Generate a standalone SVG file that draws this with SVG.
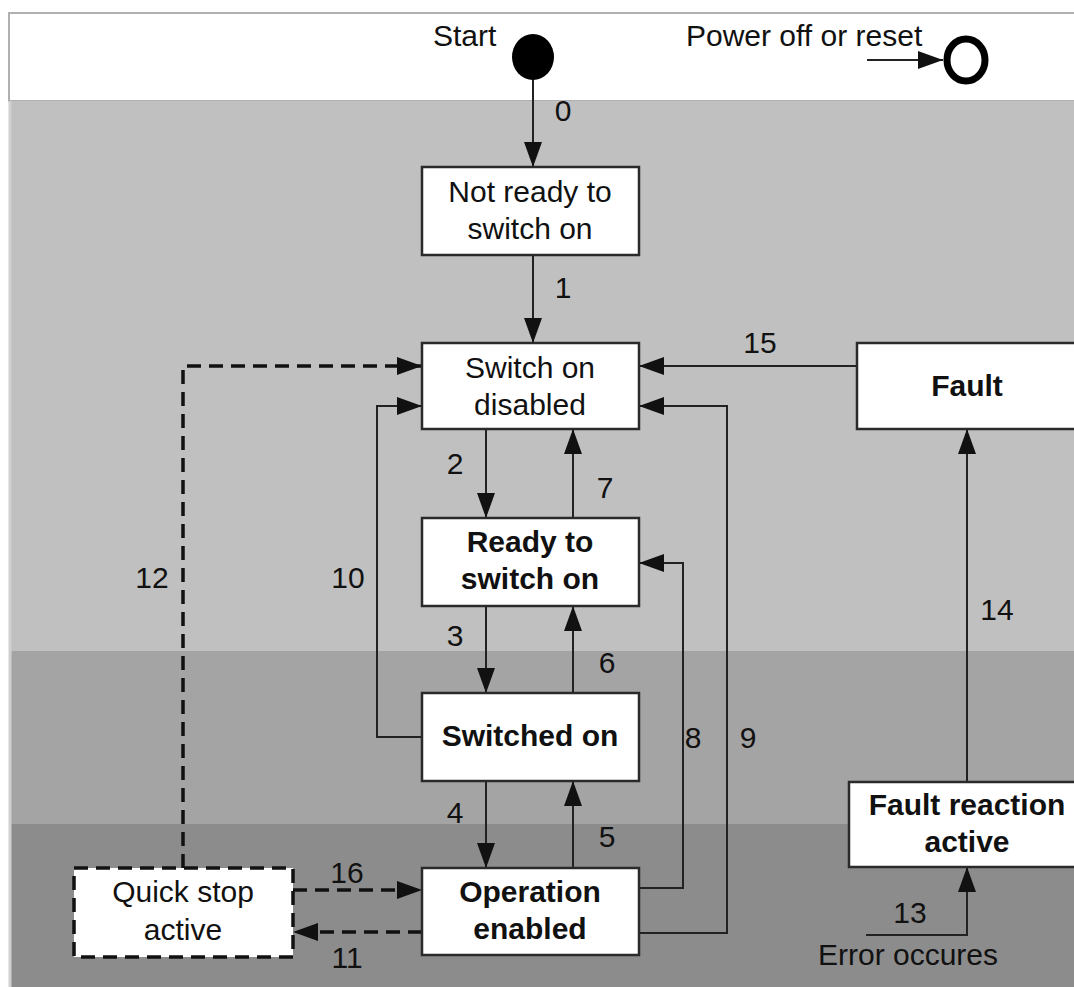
<svg xmlns="http://www.w3.org/2000/svg" width="1074" height="987" viewBox="0 0 1074 987">
<style>
text{font-family:"Liberation Sans",Arial,sans-serif;font-size:30px;fill:#111;}
.b{font-weight:bold;}
.m{text-anchor:middle;}
.box{fill:#fff;stroke:#2a2a2a;stroke-width:2.5;}
.qs{fill:#fff;stroke:#111;stroke-width:3.5;stroke-dasharray:14 8;}
.c{fill:none;stroke:#222;stroke-width:2;}
.d{fill:none;stroke:#111;stroke-width:3.5;stroke-dasharray:14 8;}
</style>
<defs>
<marker id="ah" markerUnits="userSpaceOnUse" markerWidth="28" markerHeight="20" refX="25" refY="9" orient="auto">
<path d="M0,0 L25,9 L0,18 Z" fill="#111"/>
</marker>
</defs>
<rect x="0" y="0" width="1074" height="987" fill="#fff"/>
<g id="background">
<rect x="9" y="13" width="1070" height="88" fill="#fff" stroke="#b0b0b0" stroke-width="2"/>
<rect x="9" y="101" width="1065" height="550" fill="#c0c0c0"/>
<rect x="9" y="651" width="1065" height="173" fill="#a4a4a4"/>
<rect x="9" y="824" width="1065" height="163" fill="#8c8c8c"/>
<line x1="10" y1="101" x2="10" y2="987" stroke="#d0d0d0" stroke-width="3"/>
</g>
<g id="connectors">
<path class="c" d="M533,79 V167" marker-end="url(#ah)"/>
<path class="c" d="M533,255 V343" marker-end="url(#ah)"/>
<path class="c" d="M486,429 V518" marker-end="url(#ah)"/>
<path class="c" d="M573,518 V429" marker-end="url(#ah)"/>
<path class="c" d="M486,606 V693" marker-end="url(#ah)"/>
<path class="c" d="M573,693 V606" marker-end="url(#ah)"/>
<path class="c" d="M486,781 V868" marker-end="url(#ah)"/>
<path class="c" d="M573,868 V781" marker-end="url(#ah)"/>
<path class="c" d="M422,737 H377 V406 H422" marker-end="url(#ah)"/>
<path class="d" d="M183,868 V366 H422" marker-end="url(#ah)"/>
<path class="d" d="M293,890 H422" marker-end="url(#ah)"/>
<path class="d" d="M422,932 H293" marker-end="url(#ah)"/>
<path class="c" d="M639,888 H683 V563 H639" marker-end="url(#ah)"/>
<path class="c" d="M639,933 H727 V406 H639" marker-end="url(#ah)"/>
<path class="c" d="M857,366 H639" marker-end="url(#ah)"/>
<path class="c" d="M967,782 V429" marker-end="url(#ah)"/>
<path class="c" d="M866,935 H967 V867" marker-end="url(#ah)"/>
<path class="c" d="M867,60 H943" marker-end="url(#ah)"/>
<text class="m" x="563" y="121">0</text>
<text class="m" x="563" y="298">1</text>
<text class="m" x="760" y="353">15</text>
<text class="m" x="455" y="474">2</text>
<text class="m" x="605" y="498">7</text>
<text class="m" x="152" y="588">12</text>
<text class="m" x="348" y="588">10</text>
<text class="m" x="455" y="646">3</text>
<text class="m" x="607" y="673">6</text>
<text class="m" x="693" y="748">8</text>
<text class="m" x="748" y="748">9</text>
<text class="m" x="455" y="823">4</text>
<text class="m" x="607" y="847">5</text>
<text class="m" x="347" y="883">16</text>
<text class="m" x="347" y="968">11</text>
<text class="m" x="997" y="620">14</text>
<text class="m" x="910" y="923">13</text>
</g>
<g id="start">
<ellipse cx="533" cy="57" rx="21" ry="23" fill="#000"/>
<text x="433" y="46">Start</text>
</g>
<g id="power-off">
<ellipse cx="966" cy="60" rx="19" ry="21" fill="#fff" stroke="#000" stroke-width="7"/>
<text x="686" y="46">Power off or reset</text>
</g>
<g id="not-ready">
<rect class="box" x="422" y="167" width="217" height="88"/>
<text class="m" x="530" y="202">Not ready to</text>
<text class="m" x="530" y="239">switch on</text>
</g>
<g id="switch-on-disabled">
<rect class="box" x="422" y="343" width="217" height="86"/>
<text class="m" x="530" y="378">Switch on</text>
<text class="m" x="530" y="415">disabled</text>
</g>
<g id="ready-to-switch-on">
<rect class="box" x="422" y="518" width="217" height="88"/>
<text class="m b" x="530" y="552">Ready to</text>
<text class="m b" x="530" y="589">switch on</text>
</g>
<g id="switched-on">
<rect class="box" x="422" y="693" width="217" height="88"/>
<text class="m b" x="530" y="746">Switched on</text>
</g>
<g id="operation-enabled">
<rect class="box" x="422" y="868" width="217" height="87"/>
<text class="m b" x="530" y="902">Operation</text>
<text class="m b" x="530" y="939">enabled</text>
</g>
<g id="quick-stop-active">
<rect class="qs" x="74" y="868" width="219" height="89"/>
<text class="m" x="183" y="902">Quick stop</text>
<text class="m" x="183" y="940">active</text>
</g>
<g id="fault">
<rect class="box" x="857" y="343" width="230" height="86"/>
<text class="m b" x="967" y="396">Fault</text>
</g>
<g id="fault-reaction-active">
<rect class="box" x="849" y="782" width="240" height="85"/>
<text class="m b" x="967" y="815">Fault reaction</text>
<text class="m b" x="967" y="852">active</text>
</g>
<g id="error">
<text x="818" y="965">Error occures</text>
</g>
</svg>
